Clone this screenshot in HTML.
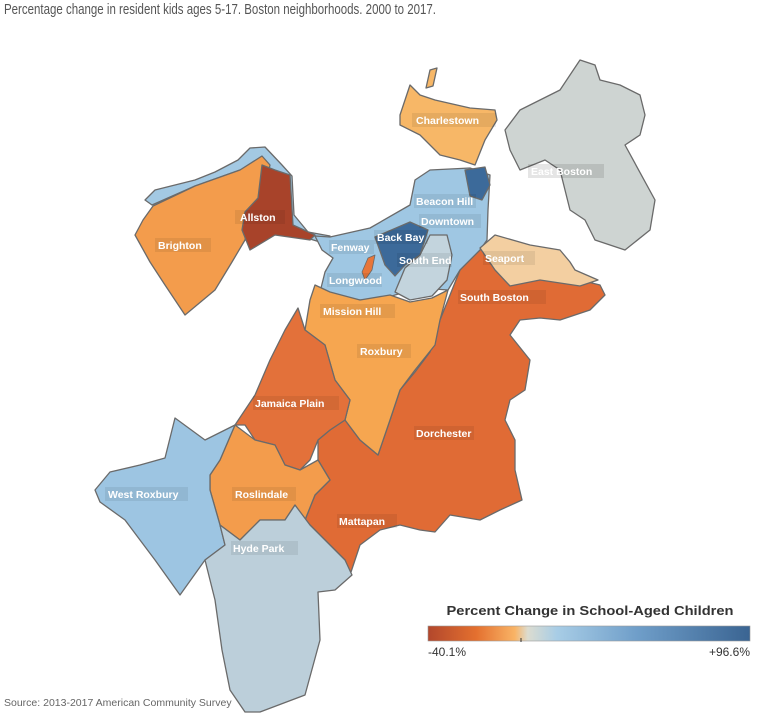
<!DOCTYPE html>
<html><head><meta charset="utf-8"><style>
html,body{margin:0;padding:0;background:#fff;}
svg{display:block;}
.l{font-family:"Liberation Sans",sans-serif;font-weight:bold;font-size:10.5px;fill:#fff;}
.b{fill:#000;fill-opacity:0.07;}
</style></head><body>
<svg width="764" height="718" viewBox="0 0 764 718" xmlns="http://www.w3.org/2000/svg">
<defs>
<linearGradient id="g" x1="0" x2="1" y1="0" y2="0">
<stop offset="0" stop-color="#b2472c"/>
<stop offset="0.15" stop-color="#e4702f"/>
<stop offset="0.27" stop-color="#f9b466"/>
<stop offset="0.31" stop-color="#dcdcd0"/>
<stop offset="0.4" stop-color="#a8cde6"/>
<stop offset="0.65" stop-color="#6f9ec9"/>
<stop offset="1" stop-color="#3a6492"/>
</linearGradient>
</defs>
<text x="4" y="14" font-family="Liberation Sans,sans-serif" font-size="15" fill="#555" textLength="432" lengthAdjust="spacingAndGlyphs">Percentage change in resident kids ages 5-17. Boston neighborhoods. 2000 to 2017.</text>
<g stroke="#6a6a6a" stroke-width="1.3" stroke-linejoin="round">
<polygon fill="#ced4d2" points="520,110 560,90 580,60 595,65 600,80 620,85 640,95 645,115 640,135 625,145 655,200 650,230 625,250 595,240 585,220 570,210 560,170 545,160 520,170 510,150 505,130"/>
<polygon fill="#f7b767" points="400,115 410,85 420,95 435,100 470,108 495,110 497,120 485,140 475,165 460,160 440,155 420,135 400,125"/>
<polygon fill="#f7b767" points="426,88 430,70 437,68 433,86"/>
<polygon fill="#a3c9e3" points="145,200 155,190 195,180 215,172 238,160 250,148 265,147 282,165 292,176 294,215 308,232 330,236 320,242 300,236 250,215 265,160 240,170 195,186 152,205"/>
<polygon fill="#f39c4c" points="153,206 195,186 240,170 262,156 270,165 262,200 250,215 245,240 232,262 215,290 185,315 165,285 150,262 135,235 143,220"/>
<polygon fill="#a8432a" points="262,165 275,170 290,175 293,225 315,235 310,240 275,235 250,250 242,230 245,212 258,198"/>
<polygon fill="#e06b35" points="318,440 330,430 345,420 360,440 378,455 390,420 400,390 415,372 430,352 440,320 450,295 460,270 478,250 487,242 500,245 515,255 540,270 580,280 600,285 605,295 590,310 560,320 540,318 520,320 510,335 530,360 525,390 510,400 505,420 515,440 515,470 522,500 500,510 480,520 450,515 435,532 420,530 400,525 380,530 360,545 350,575 345,560 310,525 305,520 315,495 330,480 318,460"/>
<polygon fill="#9fc7e3" points="315,236 330,237 370,228 410,205 415,180 430,170 470,168 490,175 488,210 487,240 480,250 460,270 448,290 420,288 395,295 380,300 355,300 330,300 320,292 325,272 333,258 322,250"/>
<polygon fill="#c3d4dd" points="405,268 420,255 430,235 447,235 452,255 447,280 432,296 410,300 395,292"/>
<polygon fill="#3c6a9a" points="375,237 410,222 428,230 420,255 405,265 395,276 385,265"/>
<polygon fill="#3c6a9a" points="465,170 485,167 490,185 482,200 470,196"/>
<polygon fill="#f3cfa1" points="480,248 495,235 530,245 560,250 570,262 575,270 598,280 580,286 540,280 510,286 495,270"/>
<polygon fill="#e8763a" stroke-width="0.8" points="362,272 368,258 375,255 372,270 365,280"/>
<polygon fill="#f6a650" points="315,285 330,292 360,300 390,295 410,302 432,298 448,290 440,320 435,345 415,370 400,390 390,420 378,455 360,440 345,420 350,400 335,380 325,345 305,330 310,300"/>
<polygon fill="#e3713a" points="305,330 325,345 335,380 350,400 345,420 330,430 318,440 310,460 300,470 285,465 275,445 255,440 245,425 235,425 255,395 270,360 285,330 298,308"/>
<polygon fill="#f39c4c" points="235,425 255,440 275,445 285,465 300,470 318,460 330,480 315,495 305,520 295,505 285,520 260,520 240,540 220,525 210,490 210,475 220,460"/>
<polygon fill="#9dc5e2" points="165,458 175,418 205,440 235,425 220,460 210,475 210,490 220,525 225,545 205,560 180,595 155,560 125,520 100,502 95,490 110,472 140,465"/>
<polygon fill="#bccfda" points="220,525 240,540 260,520 285,520 295,505 310,525 345,560 352,575 335,590 318,592 320,640 305,695 260,712 245,712 230,690 222,650 215,600 205,560 225,545"/>
</g>
<g>
<rect class="b" x="412" y="113" width="84" height="14"/><text class="l" x="416" y="124">Charlestown</text>
<rect class="b" x="235" y="210" width="50" height="14"/><text class="l" x="240" y="221">Allston</text>
<rect class="b" x="155" y="238" width="56" height="14"/><text class="l" x="158" y="249">Brighton</text>
<rect class="b" x="528" y="164" width="76" height="14" style="fill-opacity:0.1"/><text class="l" x="531" y="175">East Boston</text>
<rect class="b" x="414" y="194" width="62" height="14"/><text class="l" x="416" y="205">Beacon Hill</text>
<rect class="b" x="419" y="214" width="62" height="14"/><text class="l" x="421" y="225">Downtown</text>
<rect class="b" x="374" y="230" width="54" height="14"/><text class="l" x="377" y="241">Back Bay</text>
<rect class="b" x="329" y="240" width="45" height="14"/><text class="l" x="331" y="251">Fenway</text>
<rect class="b" x="397" y="253" width="55" height="14"/><text class="l" x="399" y="264">South End</text>
<rect class="b" x="483" y="251" width="52" height="14"/><text class="l" x="485" y="262">Seaport</text>
<rect class="b" x="327" y="273" width="55" height="14"/><text class="l" x="329" y="284">Longwood</text>
<rect class="b" x="458" y="290" width="88" height="14"/><text class="l" x="460" y="301">South Boston</text>
<rect class="b" x="320" y="304" width="75" height="14"/><text class="l" x="323" y="315">Mission Hill</text>
<rect class="b" x="357" y="344" width="54" height="14"/><text class="l" x="360" y="355">Roxbury</text>
<rect class="b" x="253" y="396" width="86" height="14"/><text class="l" x="255" y="407">Jamaica Plain</text>
<rect class="b" x="414" y="426" width="60" height="14"/><text class="l" x="416" y="437">Dorchester</text>
<rect class="b" x="105" y="487" width="83" height="14"/><text class="l" x="108" y="498">West Roxbury</text>
<rect class="b" x="232" y="487" width="64" height="14"/><text class="l" x="235" y="498">Roslindale</text>
<rect class="b" x="337" y="514" width="60" height="14"/><text class="l" x="339" y="525">Mattapan</text>
<rect class="b" x="231" y="541" width="67" height="14"/><text class="l" x="233" y="552">Hyde Park</text>
</g>
<text x="590" y="615" text-anchor="middle" font-family="Liberation Sans,sans-serif" font-weight="bold" font-size="13" fill="#333" textLength="287" lengthAdjust="spacingAndGlyphs">Percent Change in School-Aged Children</text>
<rect x="428" y="626" width="322" height="15" fill="url(#g)" stroke="#999" stroke-width="0.6"/>
<line x1="521" y1="638" x2="521" y2="642" stroke="#333" stroke-width="1"/>
<text x="428" y="656" font-family="Liberation Sans,sans-serif" font-size="12" fill="#333">-40.1%</text>
<text x="750" y="656" text-anchor="end" font-family="Liberation Sans,sans-serif" font-size="12" fill="#333">+96.6%</text>
<text x="4" y="706" font-family="Liberation Sans,sans-serif" font-size="10.5" fill="#666">Source: 2013-2017 American Community Survey</text>
</svg>
</body></html>
